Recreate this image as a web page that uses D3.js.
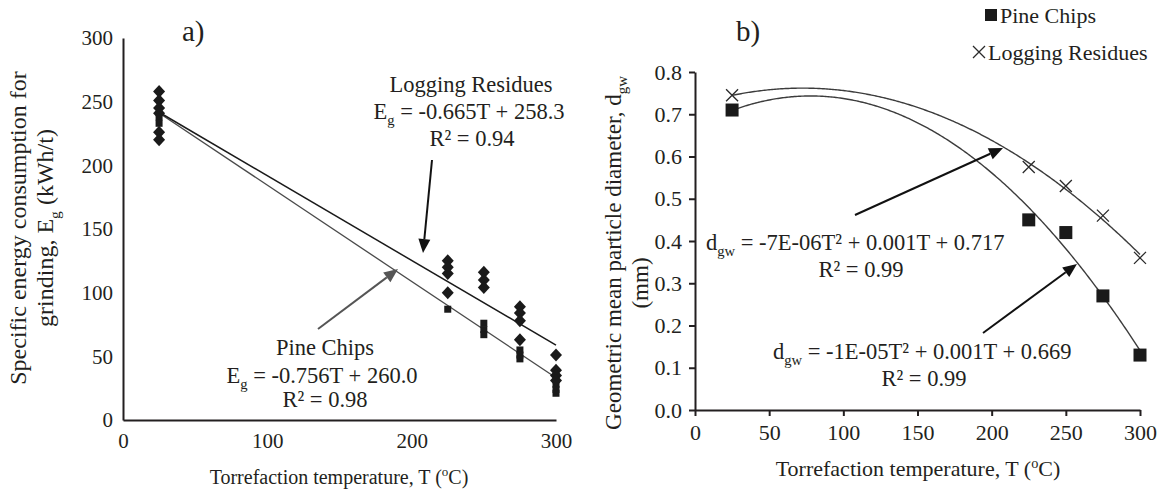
<!DOCTYPE html>
<html>
<head>
<meta charset="utf-8">
<script src="https://cdn.jsdelivr.net/npm/d3@7"></script>
<style>
  html, body { margin: 0; padding: 0; background: #fff; }
  svg { display: block; }
  text { font-family: "Liberation Serif", "Times New Roman", serif; fill: #231f20; }
</style>
</head>
<body>
<svg id="chart" width="1165" height="492"></svg>
<script>
// ---- data ----------------------------------------------------------------
// torrefaction temperatures (°C)
const temps = [25, 225, 250, 275, 300];

// a) specific grinding energy (kWh/t), replicate measurements per temperature
const residuesEnergy = [
  [258, 251, 245, 241, 226, 220],
  [125, 120, 115, 100],
  [116, 110, 104],
  [89, 84, 78, 63],
  [51, 39, 35, 31]
];
const chipsEnergy = [
  [238, 233],
  [87],
  [76, 71, 67],
  [55, 51, 48],
  [28, 24, 21]
];
// linear fits [slope, intercept]
const residuesFit = [-0.665, 258.3];
const chipsFit = [-0.756, 260.0];

// b) geometric mean particle diameter (mm)
const chipsDiameter = [0.71, 0.45, 0.42, 0.27, 0.13];
const residuesDiameter = [0.745, 0.575, 0.53, 0.46, 0.36];

// tick values
const energyTicks = [0, 50, 100, 150, 200, 250, 300];
const tempTicksA = [0, 100, 200, 300];
const tempTicksB = [0, 50, 100, 150, 200, 250, 300];
const diameterTicks = [0, 0.1, 0.2, 0.3, 0.4, 0.5, 0.6, 0.7, 0.8];

// ---- helpers -------------------------------------------------------------
const svg = d3.select("#chart");
const ink = "#231f20";

function quadFit(xs, ys) {
  // least-squares y = a x^2 + b x + c via normal equations
  let s = [0, 0, 0, 0, 0], t = [0, 0, 0];
  xs.forEach((x, i) => {
    const y = ys[i];
    for (let k = 0; k < 5; k++) s[k] += Math.pow(x, k);
    for (let k = 0; k < 3; k++) t[k] += y * Math.pow(x, k);
  });
  const M = [[s[4], s[3], s[2], t[2]], [s[3], s[2], s[1], t[1]], [s[2], s[1], s[0], t[0]]];
  for (let i = 0; i < 3; i++) {
    for (let j = i + 1; j < 3; j++) {
      const f = M[j][i] / M[i][i];
      for (let k = i; k < 4; k++) M[j][k] -= f * M[i][k];
    }
  }
  const r = [0, 0, 0];
  for (let i = 2; i >= 0; i--) {
    let v = M[i][3];
    for (let k = i + 1; k < 3; k++) v -= M[i][k] * r[k];
    r[i] = v / M[i][i];
  }
  return r; // [a, b, c]
}

function arrow(g, x1, y1, x2, y2, color, width) {
  const ang = Math.atan2(y2 - y1, x2 - x1);
  const len = 14, half = 6;
  const bx = x2 - len * Math.cos(ang), by = y2 - len * Math.sin(ang);
  g.append("line")
    .attr("x1", x1).attr("y1", y1).attr("x2", bx).attr("y2", by)
    .attr("stroke", color).attr("stroke-width", width);
  const px = -Math.sin(ang) * half, py = Math.cos(ang) * half;
  g.append("path")
    .attr("d", `M${x2},${y2}L${bx + px},${by + py}L${bx - px},${by - py}Z`)
    .attr("fill", color);
}

function styleAxis(sel, size) {
  sel.attr("font-family", null).attr("font-size", null);
  sel.selectAll("text").style("font-size", size + "px").attr("fill", ink);
  sel.select(".domain").attr("stroke", ink).attr("stroke-width", 2);
  sel.selectAll(".tick line").attr("stroke", ink).attr("stroke-width", 2);
}

// Text with sub/superscripts: parts = [[text, "n"|"sub"|"sup"], ...]
function richText(g, x, y, parts, size, anchor) {
  const t = g.append("text").attr("x", x).attr("y", y)
    .attr("text-anchor", anchor || "start").style("font-size", size + "px");
  let shift = 0;
  parts.forEach(([str, kind]) => {
    let target = kind === "sub" ? size * 0.28 : kind === "sup" ? -size * 0.38 : 0;
    t.append("tspan")
      .attr("dy", target - shift)
      .style("font-size", kind === "n" ? size + "px" : (size * 0.65) + "px")
      .text(str);
    shift = target;
  });
  return t;
}

// ---- a) grinding energy --------------------------------------------------
const xA = d3.scaleLinear().domain([0, 300]).range([123, 556]);
const yA = d3.scaleLinear().domain([0, 300]).range([420, 38]);
const gA = svg.append("g");

gA.append("g").attr("transform", "translate(123,0)")
  .call(d3.axisLeft(yA).tickValues(energyTicks).tickSize(0).tickPadding(10).tickFormat(d3.format("d")))
  .call(s => styleAxis(s, 21));
gA.append("g").attr("transform", "translate(0,420)")
  .call(d3.axisBottom(xA).tickValues(tempTicksA).tickSize(0).tickPadding(13).tickFormat(d3.format("d")))
  .call(s => styleAxis(s, 21));

// fitted lines
[[chipsFit, "#4a4a4a", 1.3], [residuesFit, "#1a1a1a", 1.5]].forEach(([fit, col, w]) => {
  gA.append("line")
    .attr("x1", xA(25)).attr("y1", yA(fit[0] * 25 + fit[1]))
    .attr("x2", xA(300)).attr("y2", yA(fit[0] * 300 + fit[1]))
    .attr("stroke", col).attr("stroke-width", w);
});

// pine chips markers (small squares)
temps.forEach((T, i) => {
  chipsEnergy[i].forEach(v => {
    gA.append("rect")
      .attr("x", xA(T) - 3.5).attr("y", yA(v) - 3.5)
      .attr("width", 7).attr("height", 7).attr("fill", "#1a1a1a");
  });
});
// logging residues markers (diamonds)
const diamond = "M0,-6.5L6,0L0,6.5L-6,0Z";
temps.forEach((T, i) => {
  residuesEnergy[i].forEach(v => {
    gA.append("path").attr("d", diamond)
      .attr("transform", `translate(${xA(T)},${yA(v)})`)
      .attr("fill", "#1a1a1a");
  });
});

// annotations
const fa = 22.5;
gA.append("text").attr("x", 471).attr("y", 92).attr("text-anchor", "middle")
  .style("font-size", fa + "px").text("Logging Residues");
richText(gA, 469, 119, [["E", "n"], ["g", "sub"], [" = -0.665T + 258.3", "n"]], fa, "middle");
gA.append("text").attr("x", 472).attr("y", 146).attr("text-anchor", "middle")
  .style("font-size", fa + "px").text("R² = 0.94");
arrow(gA, 432, 160, 423, 253, "#111", 2);

gA.append("text").attr("x", 325).attr("y", 355).attr("text-anchor", "middle")
  .style("font-size", fa + "px").text("Pine Chips");
richText(gA, 322, 383, [["E", "n"], ["g", "sub"], [" = -0.756T + 260.0", "n"]], fa, "middle");
gA.append("text").attr("x", 325).attr("y", 407).attr("text-anchor", "middle")
  .style("font-size", fa + "px").text("R² = 0.98");
arrow(gA, 318, 329, 398, 269, "#555", 2);

// axis titles
const yTitleA = gA.append("g").attr("transform", "translate(26,228) rotate(-90)");
yTitleA.append("text").attr("x", 0).attr("y", 0).attr("text-anchor", "middle")
  .style("font-size", "24px").text("Specific energy consumption for");
richText(yTitleA, 0, 27, [["grinding, E", "n"], ["g", "sub"], [" (kWh/t)", "n"]], 24, "middle");

richText(gA, 339, 484, [["Torrefaction temperature, T (", "n"], ["o", "sup"], ["C)", "n"]], 20, "middle");

gA.append("text").attr("x", 182).attr("y", 41).style("font-size", "29px").text("a)");

// ---- b) particle diameter ------------------------------------------------
const xB = d3.scaleLinear().domain([0, 300]).range([695, 1140]);
const yB = d3.scaleLinear().domain([0, 0.8]).range([410, 72]);
const gB = svg.append("g");

gB.append("g").attr("transform", "translate(695,0)")
  .call(d3.axisLeft(yB).tickValues(diameterTicks).tickSizeInner(6).tickSizeOuter(0).tickPadding(7).tickFormat(d3.format(".1f")))
  .call(s => styleAxis(s, 22));
gB.append("g").attr("transform", "translate(0,410)")
  .call(d3.axisBottom(xB).tickValues(tempTicksB).tickSizeInner(6).tickSizeOuter(0).tickPadding(8).tickFormat(d3.format("d")))
  .call(s => styleAxis(s, 22));

// polynomial trend curves fitted to the measurements
const curveT = d3.range(25, 300.5, 1);
[chipsDiameter, residuesDiameter].forEach(ys => {
  const [a, b, c] = quadFit(temps, ys);
  const line = d3.line().x(T => xB(T)).y(T => yB(a * T * T + b * T + c));
  gB.append("path").attr("d", line(curveT))
    .attr("fill", "none").attr("stroke", "#3c3c3c").attr("stroke-width", 1.4);
});

// markers
temps.forEach((T, i) => {
  gB.append("rect")
    .attr("x", xB(T) - 6.5).attr("y", yB(chipsDiameter[i]) - 6.5)
    .attr("width", 13).attr("height", 13).attr("fill", "#1a1a1a");
});
const cross = "M-6,-6L6,6M-6,6L6,-6";
temps.forEach((T, i) => {
  gB.append("path").attr("d", cross)
    .attr("transform", `translate(${xB(T)},${yB(residuesDiameter[i])})`)
    .attr("stroke", "#2a2a2a").attr("stroke-width", 1.3).attr("fill", "none");
});

// annotations
const fb = 22.5;
richText(gB, 706, 250, [["d", "n"], ["gw", "sub"], [" = -7E-06T² + 0.001T + 0.717", "n"]], fb, "start");
gB.append("text").attr("x", 861).attr("y", 277).attr("text-anchor", "middle")
  .style("font-size", fb + "px").text("R² = 0.99");
arrow(gB, 855, 215, 1003, 148, "#111", 2);

richText(gB, 773, 359, [["d", "n"], ["gw", "sub"], [" = -1E-05T² + 0.001T + 0.669", "n"]], fb, "start");
gB.append("text").attr("x", 924).attr("y", 386).attr("text-anchor", "middle")
  .style("font-size", fb + "px").text("R² = 0.99");
arrow(gB, 983, 333, 1077, 264, "#111", 2);

// axis titles
const yTitleB = gB.append("g").attr("transform", "translate(621,253) rotate(-90)");
richText(yTitleB, 0, 0, [["Geometric mean particle diameter, d", "n"], ["gw", "sub"]], 23, "middle");
yTitleB.append("text").attr("x", -30).attr("y", 27).attr("text-anchor", "middle")
  .style("font-size", "23px").text("(mm)");

richText(gB, 918, 476, [["Torrefaction temperature, T (", "n"], ["o", "sup"], ["C)", "n"]], 22, "middle");

gB.append("text").attr("x", 736).attr("y", 41).style("font-size", "29px").text("b)");

// legend
gB.append("rect").attr("x", 985).attr("y", 9).attr("width", 12).attr("height", 12).attr("fill", "#1a1a1a");
gB.append("text").attr("x", 1000).attr("y", 23).style("font-size", "22px").text("Pine Chips");
gB.append("path").attr("d", cross).attr("transform", "translate(979,52)")
  .attr("stroke", "#2a2a2a").attr("stroke-width", 1.3).attr("fill", "none");
gB.append("text").attr("x", 988).attr("y", 60).style("font-size", "22px").text("Logging Residues");
</script>
</body>
</html>
